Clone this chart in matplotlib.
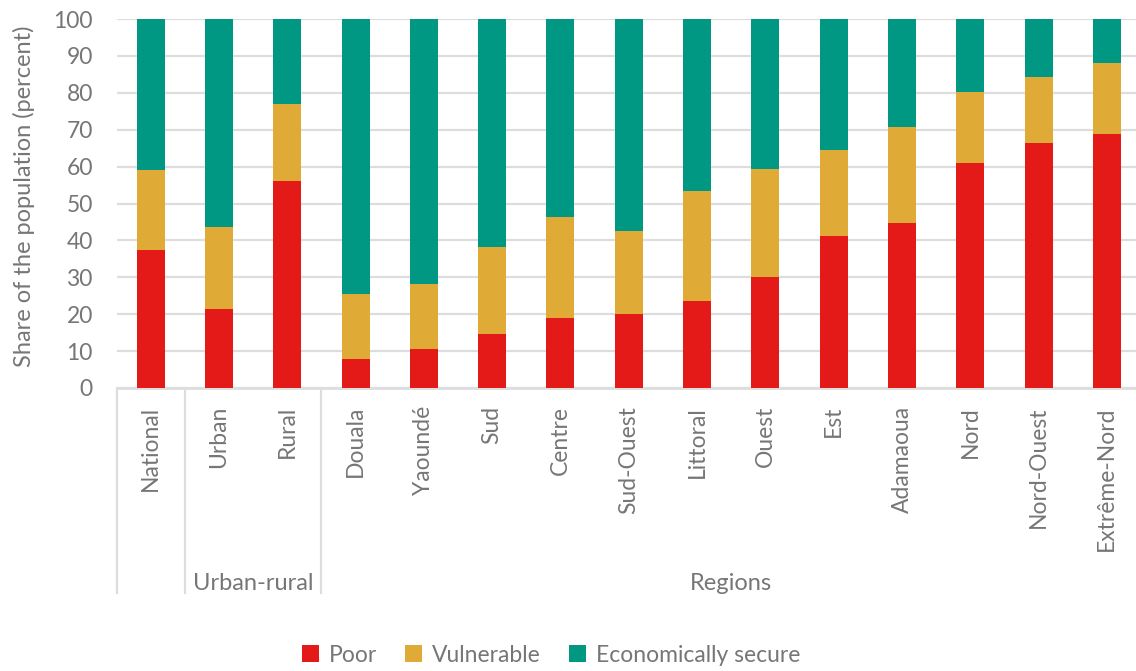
import matplotlib
matplotlib.use("Agg")
import matplotlib.pyplot as plt
import matplotlib.transforms as mtransforms
import numpy as np

plt.rcParams['font.family'] = ['Lato', 'DejaVu Sans']

categories = ["National", "Urban", "Rural", "Douala", "Yaoundé", "Sud", "Centre",
              "Sud-Ouest", "Littoral", "Ouest", "Est", "Adamaoua", "Nord",
              "Nord-Ouest", "Extrême-Nord"]
poor = [37.5, 21.4, 56.1, 7.9, 10.6, 14.7, 19.0, 20.1, 23.6, 30.1, 41.2, 44.7, 61.0, 66.4, 68.8]
vulnerable_top = [59.1, 43.6, 77.0, 25.5, 28.2, 38.2, 46.3, 42.5, 53.4, 59.3, 64.5, 70.7, 80.2, 84.3, 88.1]
vulnerable = [round(v - p, 1) for v, p in zip(vulnerable_top, poor)]
secure = [round(100 - v, 1) for v in vulnerable_top]
groups = [("", 0, 0), ("Urban-rural", 1, 2), ("Regions", 3, 14)]
series_names = ["Poor", "Vulnerable", "Economically secure"]
colors = ["#E31A18", "#DFAA36", "#009882"]
text_color = "#767676"
grid_color = "#DDDDDD"

W, H = 1136, 671
fig = plt.figure(figsize=(W / 100, H / 100), dpi=100)
left_px, right_px, top_px, bottom_px = 116.5, 1141, 19, 388
ax = fig.add_axes([left_px / W, 1 - bottom_px / H, (right_px - left_px) / W, (bottom_px - top_px) / H])

x = np.arange(len(categories))
bw = 0.41
ax.bar(x, poor, bw, color=colors[0], label=series_names[0], zorder=3)
ax.bar(x, vulnerable, bw, bottom=poor, color=colors[1], label=series_names[1], zorder=3)
ax.bar(x, secure, bw, bottom=vulnerable_top, color=colors[2], label=series_names[2], zorder=3)

ax.set_xlim(-0.5, len(categories) - 0.5)
ax.set_ylim(0, 100)
ax.set_yticks(range(0, 101, 10))
ax.yaxis.grid(True, color=grid_color, linewidth=1.6, zorder=0)
ax.set_axisbelow(True)
for s in ["left", "right", "top"]:
    ax.spines[s].set_visible(False)
ax.spines["bottom"].set_color(grid_color)
ax.spines["bottom"].set_linewidth(2)
ax.tick_params(axis="y", length=0, pad=17, labelsize=16.5, labelcolor=text_color)
ax.tick_params(axis="x", length=0, pad=13, labelsize=16.5, labelcolor=text_color)
ax.set_xticks(x)
ax.set_xticklabels(categories, rotation=90, va="top")

fig.text(24 / W, 1 - 196 / H, "Share of the population (percent)", rotation=90,
         ha="center", va="center", fontsize=17, color=text_color)

# group separators and labels
trans = mtransforms.blended_transform_factory(ax.transData, ax.transAxes)
y_bottom = (bottom_px - 593) / (bottom_px - top_px)
for xs in [-0.5, 0.5, 2.5]:
    ax.plot([xs, xs], [0, y_bottom], transform=trans, color=grid_color, linewidth=1.6,
            clip_on=False, zorder=1)
for name, a, b in groups:
    if name:
        ax.text((a + b) / 2, (bottom_px - 584) / (bottom_px - top_px), name, transform=trans,
                ha="center", va="center", fontsize=17, color=text_color)

handles, labels = ax.get_legend_handles_labels()
leg = fig.legend(handles, labels, loc="center", bbox_to_anchor=(551 / W, 1 - 655 / H),
                 ncol=3, frameon=False, fontsize=16.5, handlelength=0.75, handleheight=0.75,
                 handletextpad=0.45, columnspacing=1.2, labelcolor=text_color)

fig.savefig("out.png", dpi=100)
